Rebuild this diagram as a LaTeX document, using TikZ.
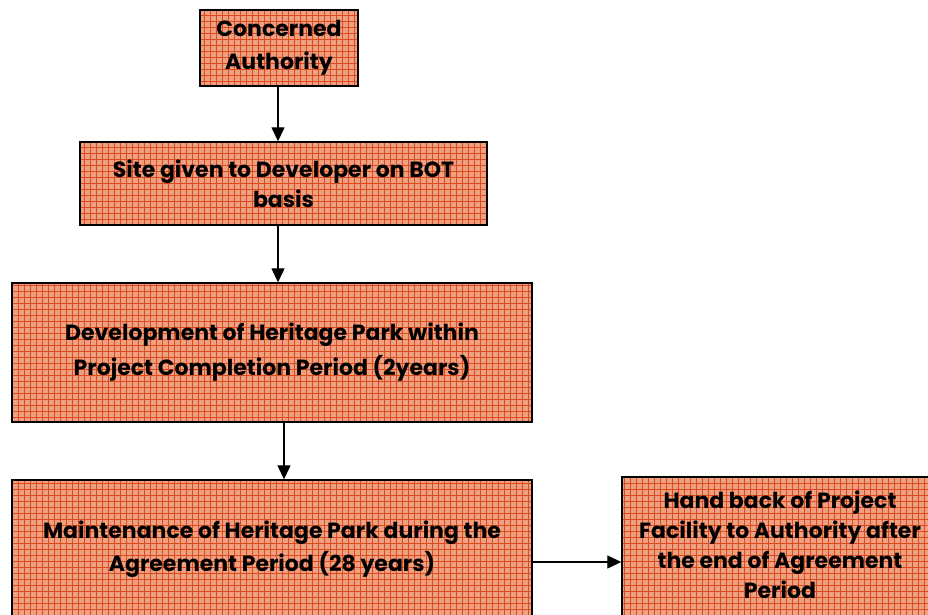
\documentclass[tikz,border=0pt]{standalone}
\usepackage{fontspec}
\setmainfont{Poppins}[BoldFont={* Bold}]
\usetikzlibrary{arrows.meta,patterns.meta}
\definecolor{boxfill}{HTML}{EFA080}
\definecolor{gridc}{HTML}{DC4A20}
\tikzset{
  box/.style={draw=black, line width=1.4pt, align=center,
    preaction={fill=boxfill},
    preaction={pattern={Lines[angle=0,distance=6pt,line width=0.9pt]}, pattern color=gridc},
    preaction={pattern={Lines[angle=90,distance=6pt,line width=0.9pt]}, pattern color=gridc},
    font=\fontsize{22}{30}\selectfont\bfseries},
  txt/.style={align=center, font=\fontsize{22}{30}\selectfont\bfseries},
  conn/.style={line width=1.3pt, -{Triangle[length=14pt,width=13pt]}}
}
\begin{document}
\begin{tikzpicture}[x=1pt,y=-1pt]
\useasboundingbox (0,0) rectangle (928,615);
\clip (0,0) rectangle (928,615);
\node[box, minimum width=158pt, minimum height=76pt, font=\fontsize{22}{33}\selectfont\bfseries] (a) at (279,48) {Concerned\\Authority};
\node[box, minimum width=407pt, minimum height=83pt] (b) at (283.5,183.5) {Site given to Developer on BOT\\basis};
\node[box, minimum width=520pt, minimum height=139pt, font=\fontsize{22}{35}\selectfont\bfseries] (c) at (272,352.5) {Development of Heritage Park within\\Project Completion Period (2years)};
\node[box, minimum width=520pt, minimum height=138pt, font=\fontsize{22}{33}\selectfont\bfseries] (d) at (272,549) {Maintenance of Heritage Park during the\\Agreement Period (28 years)};
\node[box, minimum width=318pt, minimum height=150pt] (e) at (781,552) {};
\node[txt] (et) at (780,544.5) {Hand back of Project\\Facility to Authority after\\the end of Agreement\\Period};
\coordinate (x1) at (278,0);
\coordinate (x3) at (284,0);
\coordinate (y4) at (0,562);
\draw[conn] (x1 |- a.south) -- (x1 |- b.north);
\draw[conn] (x1 |- b.south) -- (x1 |- c.north);
\draw[conn] (x3 |- c.south) -- (x3 |- d.north);
\draw[conn] (d.east |- y4) -- (e.west |- y4);
\end{tikzpicture}
\end{document}
